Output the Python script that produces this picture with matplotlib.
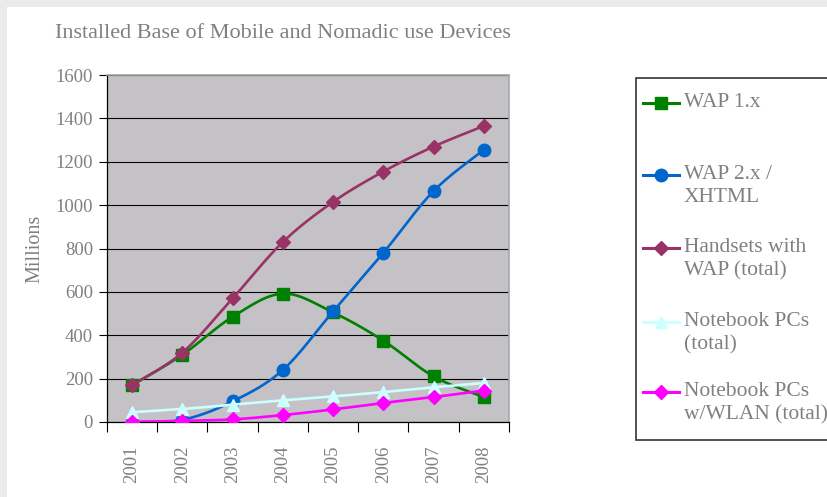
import numpy as np
import matplotlib
matplotlib.use("Agg")
import matplotlib.pyplot as plt
from matplotlib.lines import Line2D
from matplotlib.patches import Rectangle

years = ["2001", "2002", "2003", "2004", "2005", "2006", "2007", "2008"]
wap1 = [170, 310, 485, 592, 505, 375, 210, 115]
wap2 = [0, 10, 95, 240, 510, 780, 1065, 1255]
handsets = [170, 320, 570, 830, 1015, 1155, 1270, 1365]
notebooks = [45, 60, 80, 100, 118, 138, 160, 180]
notebooks_wlan = [0, 5, 12, 32, 58, 88, 115, 145]

series = [
    ("WAP 1.x", wap1, "#008000", "s", 8.5),
    ("WAP 2.x /\nXHTML", wap2, "#0066cc", "o", 9),
    ("Handsets with\nWAP (total)", handsets, "#993366", "D", 7.5),
    ("Notebook PCs\n(total)", notebooks, "#ccffff", "^", 9),
    ("Notebook PCs\nw/WLAN (total)", notebooks_wlan, "#ff00ff", "D", 7.5),
]

GREY = "#808080"
FONT = "Liberation Serif"
W, H = 828, 497


def smooth(xs, ys, n=30):
    # excel style smoothed line: catmull-rom as cubic bezier
    p = np.column_stack([xs, ys]).astype(float)
    p = np.vstack([p[0], p, p[-1]])
    out = []
    t = np.linspace(0, 1, n)[:, None]
    for i in range(1, len(p) - 2):
        p0, p1, p2, p3 = p[i - 1], p[i], p[i + 1], p[i + 2]
        c1 = p1 + (p2 - p0) / 6
        c2 = p2 - (p3 - p1) / 6
        seg = ((1 - t) ** 3) * p1 + 3 * ((1 - t) ** 2) * t * c1 + 3 * (1 - t) * t ** 2 * c2 + t ** 3 * p2
        out.append(seg if i == 1 else seg[1:])
    out = np.vstack(out)
    return out[:, 0], out[:, 1]


fig = plt.figure(figsize=(W / 100, H / 100), dpi=100)
fig.patch.set_facecolor("#ebebeb")
fig.add_artist(Rectangle((7 / W, 0), 1, 1 - 7 / H, transform=fig.transFigure,
                         facecolor="white", edgecolor="none", zorder=-10))

ax = fig.add_axes([107 / W, 1 - 422 / H, (509 - 107) / W, (422 - 75) / H])
ax.set_facecolor("#c4c2c6")

x = np.arange(len(years))
for k, (label, vals, color, marker, ms) in enumerate(series):
    sx, sy = smooth(x, vals)
    ax.plot(sx, sy, color=color, lw=1.9, zorder=3 + k, solid_capstyle="round")
    ax.plot(x, vals, ls="none", marker=marker, ms=ms, color=color,
            markeredgecolor=color, zorder=3 + k)

ax.set_xlim(-0.5, len(years) - 0.5)
ax.set_ylim(0, 1600)
ax.set_yticks(range(0, 1601, 200))
ax.yaxis.grid(True, color="black", lw=0.8)
ax.set_axisbelow(True)

ax.set_xticks(x)
ax.set_xticklabels(years, rotation=90, fontsize=13.5, family=FONT, color=GREY)
ax.set_xticks(np.arange(-0.5, len(years)), minor=True)
ax.tick_params(axis="x", which="major", length=0, pad=17)
ax.tick_params(axis="x", which="minor", length=7, width=0.8, color="black", direction="out")
ax.tick_params(axis="y", length=6, width=0.8, color="black", pad=4)
for t in ax.get_yticklabels():
    t.set_fontfamily(FONT)
    t.set_fontsize(13.5)
    t.set_color(GREY)

for s in ["left", "bottom"]:
    ax.spines[s].set_color("black")
    ax.spines[s].set_linewidth(0.9)
for s in ["top", "right"]:
    ax.spines[s].set_color("#a8a8a8")
    ax.spines[s].set_linewidth(1.2)

fig.text(35 / W, 1 - 249 / H, "Millions", rotation=90, ha="center", va="center",
         fontsize=14.5, family=FONT, color=GREY)
fig.text(283 / W, 1 - 33 / H, "Installed Base of Mobile and Nomadic use Devices",
         ha="center", va="center", fontsize=16, family=FONT, color=GREY)

# legend box, running off the right edge
fig.add_artist(Rectangle((636 / W, 1 - 440 / H), 1, (440 - 78) / H,
                         transform=fig.transFigure, facecolor="white",
                         edgecolor="#333333", lw=1.2))
rows = [103, 175, 248, 322, 392]
for (label, vals, color, marker, ms), yp in zip(series, rows):
    yy = 1 - yp / H
    fig.add_artist(Line2D([643 / W, 661 / W, 679 / W], [yy, yy, yy], transform=fig.transFigure,
                          color=color, lw=2.2, marker=marker, ms=ms, markevery=[1],
                          markeredgecolor=color))
    fig.text(684 / W, 1 - (yp - 10) / H, label, ha="left", va="top", fontsize=15.5,
             family=FONT, color=GREY, linespacing=1.3)

fig.savefig("out.png", dpi=100, facecolor=fig.get_facecolor())
